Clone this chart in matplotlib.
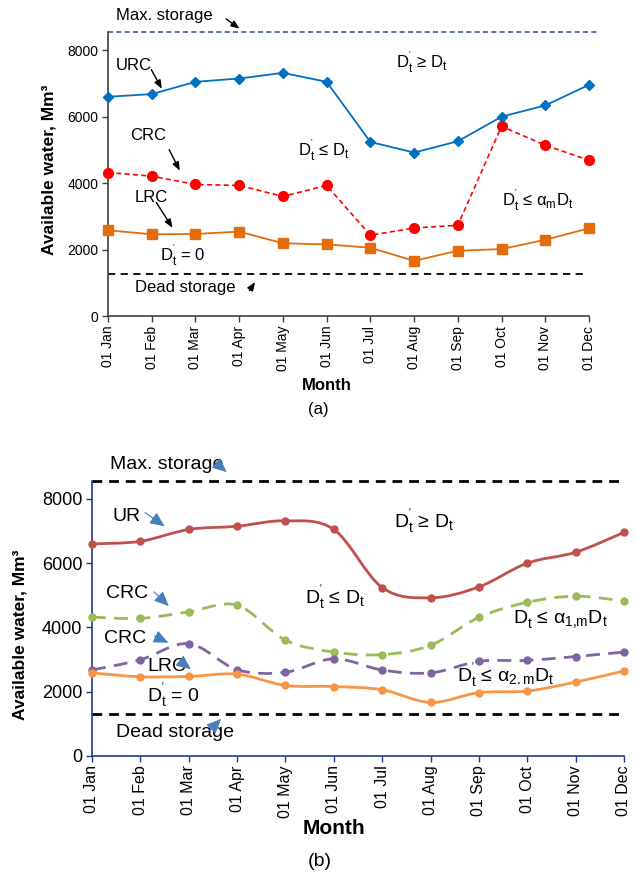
import matplotlib
matplotlib.use("Agg")
import matplotlib.pyplot as plt
from matplotlib.path import Path
from matplotlib.patches import PathPatch

plt.rcParams["font.family"] = ["Liberation Sans", "DejaVu Sans"]
plt.rcParams["mathtext.default"] = "regular"

months = ["01 Jan", "01 Feb", "01 Mar", "01 Apr", "01 May", "01 Jun",
          "01 Jul", "01 Aug", "01 Sep", "01 Oct", "01 Nov", "01 Dec"]
urc = [6600, 6680, 7050, 7150, 7320, 7050, 5240, 4920, 5260, 6000, 6340, 6960]
crc = [4320, 4210, 3960, 3930, 3600, 3930, 2430, 2650, 2730, 5710, 5140, 4690]
lrc = [2580, 2460, 2470, 2540, 2190, 2155, 2055, 1660, 1965, 2015, 2295, 2640]
crc1 = [4320, 4280, 4480, 4690, 3600, 3230, 3150, 3440, 4310, 4780, 4970, 4820]
crc2 = [2670, 2990, 3490, 2680, 2600, 3020, 2670, 2580, 2940, 2970, 3090, 3230]
max_storage_a, dead_storage_a = 8550, 1250
max_storage_b, dead_storage_b = 8560, 1290
yticks = [0, 2000, 4000, 6000, 8000]

x = list(range(len(months)))


def smooth_path(xs, ys):
    # Excel-style smoothed line: cubic bezier segments through every point
    pts = list(zip(xs, ys))
    n = len(pts)
    verts = [pts[0]]
    codes = [Path.MOVETO]
    for i in range(n - 1):
        p0 = pts[max(i - 1, 0)]
        p1 = pts[i]
        p2 = pts[i + 1]
        p3 = pts[min(i + 2, n - 1)]
        c1 = (p1[0] + (p2[0] - p0[0]) / 6, p1[1] + (p2[1] - p0[1]) / 6)
        c2 = (p2[0] - (p3[0] - p1[0]) / 6, p2[1] - (p3[1] - p1[1]) / 6)
        verts += [c1, c2, p2]
        codes += [Path.CURVE4] * 3
    return Path(verts, codes)


def dt(rel):
    return "D$_t^{'}$" + rel


fig = plt.figure(figsize=(6.37, 8.74), dpi=100)

# ---------------- (a) ----------------
ax1 = fig.add_axes([108 / 637, (874 - 316) / 874, 481 / 637, 284 / 874])
ax1.plot(x, urc, color="#0070C0", lw=1.3, marker="D", ms=5.5, clip_on=False, zorder=4)
ax1.plot(x, crc, color="#FF0000", lw=1.2, ls=(0, (3, 2)), marker="o", ms=7,
         clip_on=False, zorder=4)
ax1.plot(x, lrc, color="#E46C0A", lw=1.3, marker="s", ms=7, clip_on=False, zorder=4)
ax1.plot([0, 11.2], [max_storage_a] * 2, color="#3F5A97", lw=1.2, ls=(0, (3, 2)),
         clip_on=False)
ax1.plot([0, 10.9], [dead_storage_a] * 2, color="black", lw=1.3, ls=(0, (4, 3)))

ax1.set_xlim(0, 11)
ax1.set_ylim(0, max_storage_a)
ax1.set_yticks(yticks)
ax1.set_xticks(x)
ax1.set_xticklabels(months, rotation=90)
ax1.tick_params(labelsize=10, color="#404040", length=4, width=1, pad=3)
for s in ["top", "right"]:
    ax1.spines[s].set_visible(False)
for s in ["left", "bottom"]:
    ax1.spines[s].set_color("#404040")
    ax1.spines[s].set_linewidth(1.2)

akw = dict(arrowstyle="-|>,head_length=0.5,head_width=0.2", color="black", lw=1)
fs_a = 12
ax1.text(0.18, 9050, "Max. storage", fontsize=fs_a, va="center", clip_on=False)
ax1.annotate("", xy=(3.06, 8602), xytext=(2.65, 8992), arrowprops=akw, annotation_clip=False)
ax1.text(0.18, 7550, "URC", fontsize=fs_a, va="center")
ax1.annotate("", xy=(1.26, 6767), xytext=(0.96, 7489), arrowprops=akw)
ax1.text(0.5, 5440, "CRC", fontsize=fs_a, va="center")
ax1.annotate("", xy=(1.67, 4301), xytext=(1.37, 5083), arrowprops=akw)
ax1.text(0.62, 3580, "LRC", fontsize=fs_a, va="center")
ax1.annotate("", xy=(1.51, 2586), xytext=(1.07, 3489), arrowprops=akw)
ax1.text(1.19, 1835, dt(" = 0"), fontsize=fs_a, va="center")
ax1.text(0.62, 872, "Dead storage", fontsize=fs_a, va="center")
ax1.annotate("", xy=(3.4, 1090), xytext=(3.2, 700), arrowprops=akw)
ax1.text(6.59, 7640, dt(" ≥ D$_t$"), fontsize=fs_a, va="center")
ax1.text(4.34, 4990, dt(" ≤ D$_t$"), fontsize=fs_a, va="center")
ax1.text(9.0, 3490, dt(" ≤ α$_m$D$_t$"), fontsize=fs_a, va="center")

fig.text(49 / 637, 1 - 170 / 874, "Available water, Mm³", rotation=90,
         fontsize=12.5, fontweight="bold", ha="center", va="center")
fig.text(327 / 637, 1 - 386 / 874, "Month", fontsize=12, fontweight="bold",
         ha="center", va="center")
fig.text(318 / 637, 1 - 410 / 874, "(a)", fontsize=12, ha="center", va="center")

# ---------------- (b) ----------------
ax2 = fig.add_axes([92 / 637, (874 - 755.7) / 874, 532 / 637, 274.7 / 874])
series_b = [
    (urc, "#C0504D", "-"),
    (crc1, "#9BBB59", (0, (5, 3))),
    (crc2, "#8064A2", (0, (5, 3))),
    (lrc, "#F79646", "-"),
]
for ys, col, ls in series_b:
    ax2.add_patch(PathPatch(smooth_path(x, ys), fill=False, edgecolor=col, lw=2,
                            ls=ls, capstyle="butt", zorder=3, clip_on=False))
    ax2.plot(x, ys, ls="none", marker="o", ms=5, color=col, clip_on=False, zorder=4)
ax2.plot([0, 11], [max_storage_b] * 2, color="black", lw=2, ls=(0, (3.5, 2.5)),
         clip_on=False)
ax2.plot([0, 11], [dead_storage_b] * 2, color="black", lw=2, ls=(0, (3.5, 2.5)))

ax2.set_xlim(0, 11)
ax2.set_ylim(0, max_storage_b)
ax2.set_yticks(yticks)
ax2.set_xticks(x)
ax2.set_xticklabels(months, rotation=90)
ax2.tick_params(axis="y", labelsize=13)
ax2.tick_params(axis="x", labelsize=11.5)
ax2.tick_params(color="#1F3A8A", length=4, width=1, pad=3)
for s in ["top", "right"]:
    ax2.spines[s].set_visible(False)
for s in ["left", "bottom"]:
    ax2.spines[s].set_color("#1F3A8A")
    ax2.spines[s].set_linewidth(1.2)

bkw = dict(arrowstyle="-|>,head_length=0.9,head_width=0.4", color="#4A7EBB", lw=0.8)
fs_b = 14
ax2.text(0.37, 9060, "Max. storage", fontsize=fs_b, va="center")
ax2.annotate("", xy=(2.83, 8781), xytext=(2.61, 9062), arrowprops=bkw, annotation_clip=False)
ax2.text(0.43, 7440, "UR", fontsize=fs_b, va="center")
ax2.annotate("", xy=(1.55, 7098), xytext=(1.05, 7628), arrowprops=bkw)
ax2.text(0.29, 5040, "CRC", fontsize=fs_b, va="center")
ax2.annotate("", xy=(1.63, 4604), xytext=(1.24, 5165), arrowprops=bkw)
ax2.text(0.25, 3640, "CRC", fontsize=fs_b, va="center")
ax2.annotate("", xy=(1.63, 3482), xytext=(1.24, 3762), arrowprops=bkw)
ax2.text(1.14, 2765, "LRC", fontsize=fs_b, va="center")
ax2.annotate("", xy=(2.09, 2640), xytext=(1.82, 2952), arrowprops=bkw)
ax2.text(1.14, 1860, dt(" = 0"), fontsize=fs_b, va="center")
ax2.text(0.5, 708, "Dead storage", fontsize=fs_b, va="center")
ax2.annotate("", xy=(2.71, 1206), xytext=(2.38, 708), arrowprops=bkw)
ax2.text(6.24, 7285, dt(" ≥ D$_t$"), fontsize=fs_b, va="center")
ax2.text(4.40, 4916, dt(" ≤ D$_t$"), fontsize=fs_b, va="center")
ax2.text(8.7, 4292, dt(" ≤ α$_{1{,}m}$D$_t$"), fontsize=fs_b, va="center")
ax2.text(7.55, 2485, dt(" ≤ α$_{2{.}m}$D$_t$"), fontsize=fs_b, va="center")

fig.text(20 / 637, 1 - 635 / 874, "Available water, Mm³", rotation=90,
         fontsize=12.5, fontweight="bold", ha="center", va="center")
fig.text(334 / 637, 1 - 829 / 874, "Month", fontsize=15, fontweight="bold",
         ha="center", va="center")
fig.text(320 / 637, 1 - 862 / 874, "(b)", fontsize=14, ha="center", va="center")

fig.savefig("out.png", dpi=100)
